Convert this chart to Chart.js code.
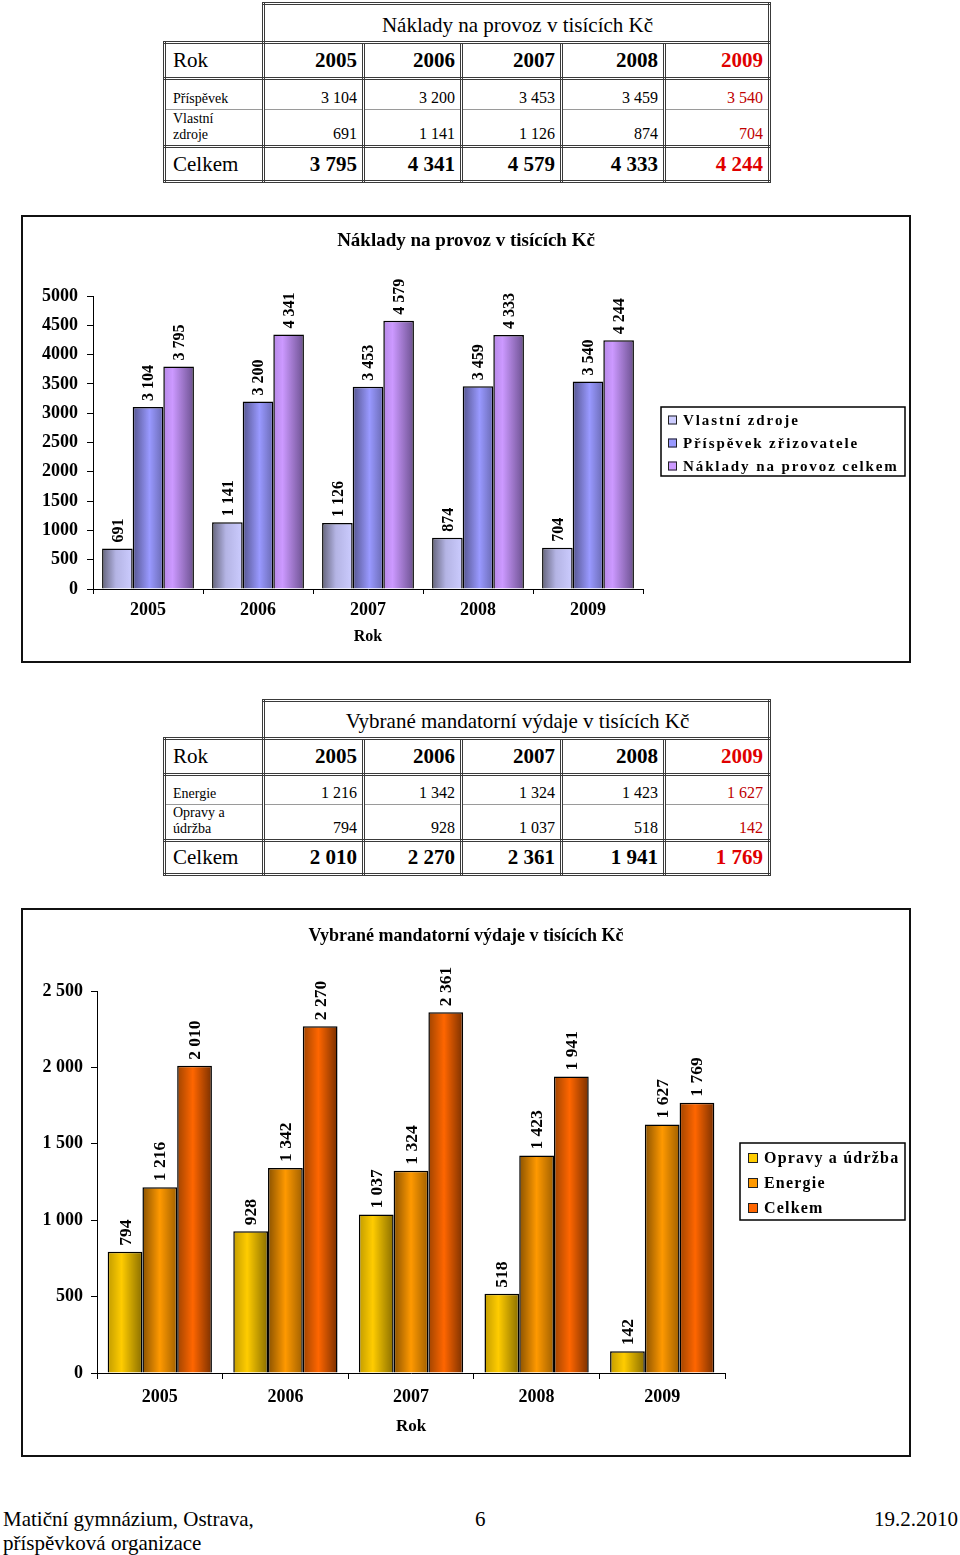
<!DOCTYPE html>
<html>
<head>
<meta charset="utf-8">
<script src="https://cdn.jsdelivr.net/npm/chart.js@4.4.1/dist/chart.umd.min.js"></script>
<style>
html,body{margin:0;padding:0;background:#fff;}
body{width:960px;height:1555px;position:relative;overflow:hidden;font-family:"Liberation Serif","Times New Roman",serif;color:#000;}
table.t{position:absolute;left:163px;width:605px;border-collapse:collapse;table-layout:fixed;}
table.t td{border:3px double #3a3a3a;padding:0 5px 0 7px;white-space:pre-line;overflow:hidden;}
table.t td.empty{border:none;}
table.t td.ttl{text-align:center;font-size:21px;vertical-align:middle;padding-top:4px;}
table.t td.lab{text-align:left;}
table.t td.num{text-align:right;}
tr.head td{font-size:21px;vertical-align:middle;}
tr.head td.num{font-weight:bold;}
tr.d td{vertical-align:bottom;padding-bottom:2px;font-size:16px;}
tr.d td.lab{font-size:14px;line-height:16px;}
tr.d1 td{border-bottom:1px solid #9a9a9a;}
tr.d2 td{border-top:1px solid #9a9a9a;}
tr.tot td{font-size:21px;vertical-align:middle;}
tr.tot td.num{font-weight:bold;}
.red{color:#e00000;}
.dred{color:#c00000;}
.box{position:absolute;left:21px;width:886px;border:2px solid #111;background:#fff;}
.box canvas{display:block;}
.foot{position:absolute;font-size:21px;line-height:24px;white-space:nowrap;}
</style>
</head>
<body>
<div id="t1"></div>
<div class="box" style="top:215px;height:444px;"><canvas id="c1" width="886" height="444"></canvas></div>
<div id="t2"></div>
<div class="box" style="top:908px;height:545px;"><canvas id="c2" width="886" height="545"></canvas></div>
<div class="foot" style="left:3px;top:1507px;">Matiční gymnázium, Ostrava,<br>příspěvková organizace</div>
<div class="foot" style="left:475px;top:1507px;">6</div>
<div class="foot" style="right:2px;top:1507px;">19.2.2010</div>

<script>
// ---------- data ----------
const years = ['2005', '2006', '2007', '2008', '2009'];

// Náklady na provoz (tis. Kč)
const prispevek = [3104, 3200, 3453, 3459, 3540];
const vlastniZdroje = [691, 1141, 1126, 874, 704];
const nakladyCelkem = [3795, 4341, 4579, 4333, 4244];

// Vybrané mandatorní výdaje (tis. Kč)
const energie = [1216, 1342, 1324, 1423, 1627];
const opravyUdrzba = [794, 928, 1037, 518, 142];
const mandatorniCelkem = [2010, 2270, 2361, 1941, 1769];

const yTicks1 = {min: 0, max: 5000, step: 500};
const yTicks2 = {min: 0, max: 2500, step: 500};

// ---------- helpers ----------
const SERIF = '"Liberation Serif", "Times New Roman", serif';
function fmt(v) { return String(v).replace(/\B(?=(\d{3})+(?!\d))/g, '\u00a0'); }

function buildTable(id, top, heights, title, lab1, row1, lab2, row2, total) {
  const n = years.length;
  let h = '<table class="t" style="top:' + top + 'px"><colgroup>' +
    '<col style="width:99px"><col style="width:100px"><col style="width:98px"><col style="width:100px"><col style="width:103px"><col style="width:105px"></colgroup>';
  h += '<tr style="height:' + heights[0] + 'px"><td class="empty"></td><td class="ttl" colspan="' + n + '">' + title + '</td></tr>';
  h += '<tr class="head" style="height:' + heights[1] + 'px"><td class="lab">Rok</td>' +
    years.map((y, i) => '<td class="num' + (i === n - 1 ? ' red' : '') + '">' + y + '</td>').join('') + '</tr>';
  h += '<tr class="d d1" style="height:' + heights[2] + 'px"><td class="lab">' + lab1 + '</td>' +
    row1.map((v, i) => '<td class="num' + (i === n - 1 ? ' dred' : '') + '">' + fmt(v) + '</td>').join('') + '</tr>';
  h += '<tr class="d d2" style="height:' + heights[3] + 'px"><td class="lab">' + lab2 + '</td>' +
    row2.map((v, i) => '<td class="num' + (i === n - 1 ? ' dred' : '') + '">' + fmt(v) + '</td>').join('') + '</tr>';
  h += '<tr class="tot" style="height:' + heights[4] + 'px"><td class="lab">Celkem</td>' +
    total.map((v, i) => '<td class="num' + (i === n - 1 ? ' red' : '') + '">' + fmt(v) + '</td>').join('') + '</tr>';
  h += '</table>';
  document.getElementById(id).innerHTML = h;
}

buildTable('t1', 2, [39, 36, 31, 37, 35], 'Náklady na provoz v tisících Kč',
  'Příspěvek', prispevek, 'Vlastní\nzdroje', vlastniZdroje, nakladyCelkem);
buildTable('t2', 699, [38, 36, 30, 34, 34], 'Vybrané mandatorní výdaje v tisících Kč',
  'Energie', energie, 'Opravy a\núdržba', opravyUdrzba, mandatorniCelkem);

// gradient fill per bar, computed from the laid-out category scale
function grad(stops, catPct) {
  return function (c) {
    const chart = c.chart;
    const xs = chart.scales && chart.scales.x;
    if (!xs || !chart.chartArea || c.dataIndex === undefined || c.datasetIndex === undefined) return stops[1][1];
    const n = chart.data.labels.length;
    const catW = (xs.right - xs.left) / n;
    const groupW = catW * catPct;
    const barW = groupW / chart.data.datasets.length;
    const center = xs.getPixelForValue(c.dataIndex);
    const left = center - groupW / 2 + c.datasetIndex * barW;
    const g = chart.ctx.createLinearGradient(left, 0, left + barW, 0);
    stops.forEach(s => g.addColorStop(s[0], s[1]));
    return g;
  };
}

const barValues = {
  id: 'barValues',
  afterDatasetsDraw(chart, args, o) {
    const ctx = chart.ctx;
    ctx.save();
    ctx.font = 'bold ' + o.size + 'px ' + SERIF;
    ctx.fillStyle = '#000';
    ctx.textAlign = 'left';
    ctx.textBaseline = 'middle';
    chart.data.datasets.forEach((ds, i) => {
      const meta = chart.getDatasetMeta(i);
      meta.data.forEach((el, j) => {
        ctx.save();
        ctx.translate(el.x + 1, el.y - o.gap);
        ctx.rotate(-Math.PI / 2);
        ctx.fillText(fmt(ds.data[j]), 0, 0);
        ctx.restore();
      });
    });
    ctx.restore();
  }
};

const boxLegend = {
  id: 'boxLegend',
  afterDraw(chart, args, o) {
    const ctx = chart.ctx;
    ctx.save();
    ctx.lineWidth = 1.5;
    ctx.strokeStyle = '#000';
    ctx.strokeRect(o.x, o.y, o.w, o.h);
    ctx.font = 'bold ' + o.size + 'px ' + SERIF;
    try { ctx.letterSpacing = o.spacing + 'px'; } catch (e) {}
    ctx.textAlign = 'left';
    ctx.textBaseline = 'middle';
    chart.data.datasets.forEach((ds, i) => {
      const y = o.y + o.first + i * o.step;
      ctx.fillStyle = o.colors[i];
      ctx.fillRect(o.sq, y - o.box / 2, o.box, o.box);
      ctx.lineWidth = 1;
      ctx.strokeStyle = '#222';
      ctx.strokeRect(o.sq + 0.5, y - o.box / 2 + 0.5, o.box - 1, o.box - 1);
      ctx.fillStyle = '#000';
      ctx.fillText(ds.label, o.tx, y + 1);
    });
    ctx.restore();
  }
};

function makeChart(canvas, cfg) {
  return new Chart(canvas, {
    type: 'bar',
    data: {
      labels: years,
      datasets: cfg.series.map(s => ({
        label: s.label, data: s.data, xAxisID: 'x', yAxisID: 'y',
        backgroundColor: grad(s.stops, cfg.catPct),
        borderColor: '#000', borderWidth: 1.5,
        categoryPercentage: cfg.catPct, barPercentage: 1
      }))
    },
    options: {
      responsive: false, animation: false, devicePixelRatio: 1,
      layout: {padding: 0},
      events: [],
      plugins: {
        legend: {display: false},
        tooltip: {enabled: false},
        title: {
          display: true, text: cfg.title, color: '#000',
          font: {family: SERIF, size: cfg.titleSize, weight: 'bold'},
          padding: cfg.titlePad
        },
        barValues: {size: cfg.valSize, gap: 6},
        boxLegend: cfg.legend
      },
      scales: {
        x: {
          grid: {display: true, drawOnChartArea: false, drawTicks: true, tickLength: cfg.xTick, color: '#000', offset: true},
          border: {display: true, color: '#000', width: 1},
          ticks: {color: '#000', padding: cfg.xPad, font: {family: SERIF, size: 18, weight: 'bold'}},
          title: {display: true, text: 'Rok', color: '#000', font: {family: SERIF, size: cfg.rokSize, weight: 'bold'}, padding: {top: 0, bottom: cfg.rokPad}},
          afterFit(s) { s.height = cfg.xHeight; }
        },
        y: {
          min: cfg.yt.min, max: cfg.yt.max,
          grid: {display: true, drawOnChartArea: false, drawTicks: true, tickLength: 6, color: '#000'},
          border: {display: true, color: '#000', width: 1},
          ticks: {stepSize: cfg.yt.step, color: '#000', padding: cfg.yPad, font: {family: SERIF, size: 18, weight: 'bold'}, callback: cfg.yFmt},
          afterFit(s) { s.width = cfg.yWidth; }
        },
        pad: {
          type: 'linear', position: 'right', display: true,
          ticks: {display: false}, grid: {display: false}, border: {display: false},
          afterFit(s) { s.width = cfg.rightPad; }
        }
      }
    },
    plugins: [barValues, boxLegend]
  });
}

makeChart(document.getElementById('c1'), {
  title: 'Náklady na provoz v tisících Kč',
  titleSize: 19,
  titlePad: {top: 12.6, bottom: 43.6},
  catPct: 0.835,
  series: [
    {label: 'Vlastní zdroje', data: vlastniZdroje, stops: [[0, '#64647c'], [0.45, '#b4b4e4'], [1, '#ccccff']]},
    {label: 'Příspěvek zřizovatele', data: prispevek, stops: [[0, '#55558f'], [0.55, '#9999ff'], [1, '#6a6ab4']]},
    {label: 'Náklady na provoz celkem', data: nakladyCelkem, stops: [[0, '#b588e6'], [0.3, '#cc99ff'], [1, '#6c5190']]}
  ],
  valSize: 16,
  yt: yTicks1, yFmt: v => String(v),
  yWidth: 70, yPad: 9,
  xHeight: 72, xTick: 5, xPad: 6, rokSize: 16, rokPad: 15,
  rightPad: 266,
  legend: {x: 638, y: 190, w: 244, h: 69, first: 13, step: 23, sq: 645, box: 9, tx: 660, size: 15, spacing: 1.9,
    colors: ['#ccccff', '#9999ff', '#cc99ff']}
});

makeChart(document.getElementById('c2'), {
  title: 'Vybrané mandatorní výdaje v tisících Kč',
  titleSize: 18,
  titlePad: {top: 15.2, bottom: 44.2},
  catPct: 0.83,
  series: [
    {label: 'Opravy a údržba', data: opravyUdrzba, stops: [[0, '#c29c00'], [0.4, '#ffcc00'], [1, '#8a6e00']]},
    {label: 'Energie', data: energie, stops: [[0, '#8a5200'], [0.5, '#ff9900'], [1, '#a06000']]},
    {label: 'Celkem', data: mandatorniCelkem, stops: [[0, '#a04400'], [0.45, '#ff6600'], [1, '#7a3000']]}
  ],
  valSize: 17.5,
  yt: yTicks2, yFmt: v => fmt(v),
  yWidth: 74, yPad: 8,
  xHeight: 82, xTick: 6, xPad: 8, rokSize: 17, rokPad: 18,
  rightPad: 184,
  legend: {x: 717, y: 233, w: 165, h: 77, first: 15, step: 25, sq: 725, box: 10, tx: 741, size: 16, spacing: 1.2,
    colors: ['#ffcc00', '#ff9900', '#ff6600']}
});
</script>
</body>
</html>
